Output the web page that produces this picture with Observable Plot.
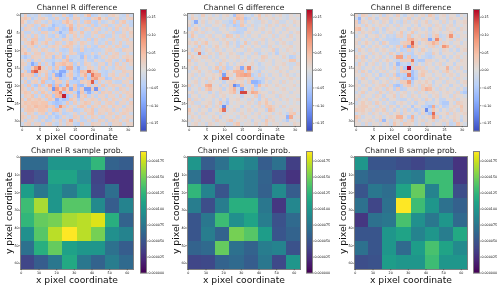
<!DOCTYPE html>
<html><head><meta charset="utf-8">
<script src="https://cdn.jsdelivr.net/npm/d3@7"></script>
<script src="https://cdn.jsdelivr.net/npm/@observablehq/plot@0.6"></script>
<style>html,body{margin:0;padding:0;background:#fff;width:504px;height:288px;overflow:hidden}
svg{filter:blur(0.35px)}</style>
</head><body>
<script>
// difference values, in hundredths
const diffR = [
[-2,3,-3,-2,-3,2,-2,-3,-4,2,-2,-3,3,-3,-5,2,-2,-3,2,5,-4,-3,1,-2,-3,2,3,1,-2,-3,3,-2],
[3,4,2,-4,-2,2,3,1,-3,-3,3,-2,-3,4,-3,3,3,-2,-3,-4,2,3,6,1,3,-3,-2,2,-3,-2,2,3],
[4,1,-3,-2,3,2,-2,-3,2,-4,-3,-4,3,5,2,-3,2,-3,3,4,-3,-4,2,-3,-2,1,3,-3,2,4,-2,-3],
[2,-3,2,3,-3,-2,4,2,-2,-6,-4,-3,-4,2,5,-2,3,2,-2,-3,3,-4,-2,2,3,-3,-2,2,3,-2,2,-3],
[-3,3,2,-2,-3,3,-4,-3,-5,-5,3,-3,-5,-4,6,-3,2,-3,3,2,-3,2,3,-2,-3,2,-3,3,-2,2,3,1],
[2,-3,-3,2,-2,-3,3,3,-2,2,-3,-7,-3,-3,4,2,-2,4,-2,-3,2,3,-3,-2,2,-2,3,-3,-3,2,-2,3],
[3,-2,2,-3,3,-2,-3,2,-3,-4,2,-3,-5,2,-2,3,-2,2,-3,-3,2,-2,2,3,-3,-3,2,-2,2,3,-2,2],
[2,3,-2,4,4,-3,-3,2,3,-2,-3,-2,3,2,-3,2,3,-2,-3,3,-4,3,-2,-3,-2,2,3,-2,-2,2,3,-2],
[-2,2,3,6,3,-2,2,4,-2,-3,3,2,-3,2,4,2,-2,3,2,-2,-3,2,-3,-2,3,-3,2,-2,3,-2,2,2],
[2,-3,2,3,-3,2,-2,-3,2,3,2,-2,3,4,3,-2,-3,2,-3,2,-3,-4,2,3,-2,2,-2,3,2,-3,-3,2],
[3,2,-3,2,2,-2,3,2,-2,-3,2,-3,-4,-3,3,-3,-4,3,-4,-3,-4,-3,-3,-2,2,3,2,-2,-3,3,2,2],
[2,5,2,-2,3,3,-3,2,3,2,-2,3,-3,-2,3,2,-4,-5,-3,-3,2,-3,2,-2,3,-2,2,3,-2,-2,2,-2],
[-3,-5,-3,3,2,2,-2,3,2,-5,3,2,-5,4,-3,-3,-2,-6,3,-4,-2,-5,-3,2,-2,2,3,2,-2,2,3,2],
[2,-2,3,-4,2,-3,2,-3,-3,-4,-2,-3,3,5,-5,-2,-3,-4,2,-3,-4,2,-2,-3,2,3,-2,-3,2,-3,5,3],
[3,2,-3,-9,-5,4,-3,3,-2,-6,3,4,5,3,4,-4,2,-4,3,2,-2,-3,2,2,-4,2,-3,3,-2,2,-2,2],
[2,-3,-4,3,8,13,3,-2,3,-4,4,-3,-5,7,7,-3,-7,-3,-2,3,2,-2,3,-3,2,-2,-3,2,3,2,-2,-2],
[-2,3,-5,10,13,4,2,3,-3,-6,-3,-9,-9,-3,3,-4,-6,5,4,12,5,3,-2,-3,-4,-2,2,-2,-2,3,2,2],
[5,2,3,4,-5,3,-2,4,-4,3,-8,-10,-5,2,4,-3,-5,3,6,-4,11,6,6,-3,-4,2,3,-2,2,2,-3,2],
[2,-3,2,-3,2,-4,3,4,-5,2,4,-5,-4,-3,3,-7,-3,-5,4,-5,6,8,3,3,-5,-4,2,3,2,-2,2,3],
[-2,3,-4,2,3,-2,5,-4,-3,-5,3,3,-3,4,-4,-4,-5,3,2,4,13,-4,3,-2,2,3,-2,-3,-3,2,2,-2],
[3,-3,4,-3,-5,4,-4,2,6,-6,5,-6,-3,8,-3,4,-6,-7,-2,4,-3,3,-3,4,-3,2,3,2,2,-3,2,3],
[3,2,-3,4,-2,3,2,-3,3,-11,8,3,7,3,-8,4,-5,3,-10,-10,3,-11,3,-3,2,-2,2,-3,3,2,-2,2],
[2,4,3,-2,3,-3,4,2,-3,4,5,10,-4,4,3,-3,-8,4,-4,-8,-3,2,-4,3,2,3,-2,2,-2,2,3,2],
[-2,3,2,4,-3,2,-3,4,3,-5,5,6,16,-5,-3,3,-7,2,4,-3,2,-3,2,2,-3,2,2,-2,3,-2,2,3],
[3,-2,4,2,3,4,2,-3,4,2,-8,-4,-6,-5,4,2,-4,3,-2,2,3,2,-3,2,3,-2,3,2,-2,2,3,-2],
[2,4,3,4,4,3,4,4,-3,-5,-6,-5,-3,4,-3,3,-2,2,4,3,-2,2,3,-2,2,3,2,-3,2,2,-2,3],
[3,2,4,3,5,4,4,5,3,4,-5,9,4,-3,2,-2,3,4,2,-3,3,2,-2,3,2,-2,3,2,2,-3,2,2],
[-2,3,4,4,2,4,4,3,-3,4,5,2,-3,2,3,-4,-3,-2,3,2,4,-3,2,2,3,2,-3,2,-2,2,3,2],
[2,-2,3,2,-3,2,3,-4,2,-5,-3,2,-4,-3,-2,2,-3,2,-2,3,4,-2,3,2,-2,3,2,-2,2,3,2,-2],
[3,2,-2,3,2,-3,-3,2,-4,-2,-5,-3,2,-2,-3,3,2,-3,2,-2,3,2,-2,-3,2,2,-2,3,2,-2,2,2],
[2,-3,2,2,-2,-3,2,-4,-3,2,-2,3,-3,2,7,-2,2,-3,-3,2,-3,-2,3,2,-3,2,3,2,-2,2,3,-2],
[-2,2,3,-2,2,2,-3,2,3,-2,-3,2,-2,3,2,-3,-4,3,-2,-2,3,2,2,-2,2,-3,2,2,3,-2,2,2]];
const diffG = [
[-1,2,-1,-2,3,-1,1,-2,1,-2,1,2,-1,-6,4,3,-2,-1,-3,1,4,-1,2,1,-2,1,2,-1,-2,1,-1,1],
[-2,3,1,-2,1,-1,2,1,-1,-2,1,-1,-2,2,5,4,-5,-3,1,-2,3,1,-1,1,2,-1,1,-1,-2,1,1,-1],
[1,-2,-9,-1,2,-2,1,-1,2,1,-2,-2,-4,4,-3,3,-3,1,-1,-2,-2,2,1,-2,1,2,-2,-2,1,-1,2,1],
[2,-3,1,-2,1,-2,-2,1,1,-1,2,-3,-2,-5,-4,4,1,-2,2,-2,-1,1,-2,2,1,-2,1,2,-1,1,-2,1],
[-3,1,3,1,-2,2,1,-2,-2,1,1,-2,1,2,-3,-3,-4,1,1,-2,1,2,-1,1,-2,1,1,-2,2,1,1,-1],
[1,3,-2,1,2,-2,-1,1,-2,-2,1,1,-2,-3,-4,-3,1,2,-1,1,1,-2,1,2,-2,1,-2,1,1,-2,1,2],
[-2,4,1,-2,-2,1,2,-2,1,1,-2,4,3,-1,2,-2,1,-2,1,1,-2,1,1,-1,2,-2,1,1,-2,2,-1,1],
[1,-3,-1,2,1,-2,1,2,-2,1,2,-1,1,2,-2,1,-2,1,-2,-1,1,2,-2,1,-2,1,2,-1,1,1,-2,1],
[2,1,3,-1,2,4,-1,1,1,-2,1,3,-2,1,-3,-1,4,-2,1,2,-2,1,-2,1,1,-2,1,2,-1,-2,1,1],
[-1,1,-2,4,-2,1,-2,1,3,-1,1,2,-1,1,-3,3,-1,1,-2,1,1,-2,-2,2,-1,1,-1,1,1,2,-1,1],
[1,-3,3,2,-2,2,1,-2,2,1,-2,1,1,-2,1,1,-2,2,1,-2,-2,1,-1,1,3,-3,1,-1,2,1,-1,1],
[3,1,-2,11,-3,-1,2,1,-2,3,1,-1,2,1,-2,-3,1,1,-2,2,-3,-1,1,-2,1,-4,1,1,-1,1,2,-1],
[-1,3,1,-1,2,2,-2,1,-2,1,1,-2,1,1,2,-1,1,-2,1,1,-1,3,2,-1,1,1,-1,2,-1,-4,-3,1],
[4,-2,2,1,-1,1,1,-2,1,-2,2,1,-1,1,-2,1,2,-1,1,-2,1,2,-1,1,-2,1,1,-1,1,4,4,-1],
[2,1,-2,1,1,-2,1,1,-2,3,1,-3,1,-2,1,2,-1,1,2,-1,-3,-1,1,1,-2,1,1,2,-1,-2,-2,2],
[1,-2,3,-1,1,1,-2,1,4,-2,3,-4,-3,1,3,-9,3,10,-2,1,-2,-2,1,-1,1,2,-1,1,1,-2,1,1],
[-2,1,1,3,-1,1,2,-2,-3,5,-3,3,1,5,6,6,-3,5,1,-2,-4,1,-1,1,1,-1,2,1,-2,1,1,-1],
[1,2,-2,1,-2,1,1,2,1,3,-10,3,2,-1,6,7,8,7,-4,-2,3,-2,1,-2,1,1,-2,1,2,-1,-2,1],
[1,-2,1,-2,1,2,-1,3,1,-5,12,12,-2,1,3,3,1,3,3,-3,-2,-3,2,1,-2,1,1,-1,1,2,1,-1],
[-1,1,2,-2,1,-2,2,1,-1,1,-3,1,2,3,1,2,-2,3,-8,-8,-6,-3,1,-2,1,1,-2,2,-1,1,-1,1],
[3,-2,1,-2,1,6,7,-1,1,-3,1,-2,3,-12,-8,4,-2,-2,2,-6,5,1,3,1,-1,2,1,-1,1,1,2,-1],
[-3,1,-1,2,-2,3,5,1,1,2,-3,1,3,6,-2,-9,1,-2,4,-3,1,-2,-1,1,1,-1,1,2,-1,1,-1,1],
[1,2,-2,1,1,1,-3,1,-2,2,1,1,3,5,-2,14,14,2,7,6,2,1,1,-2,2,1,-1,1,1,-2,1,1],
[-3,1,1,-2,1,-1,1,2,-2,1,2,-1,1,-1,1,-3,1,1,-1,3,-4,2,-1,1,1,-2,2,1,-1,1,1,-1],
[3,-2,2,1,-2,1,1,-2,1,-3,1,-4,1,1,2,-1,1,-2,2,-1,-4,1,3,-2,1,1,-2,1,2,-1,1,2],
[1,2,-2,-2,1,1,2,-2,1,4,-2,-5,1,-1,1,1,-1,2,1,-2,3,1,4,1,-2,1,1,-1,1,-1,1,-1],
[-2,1,1,2,-2,3,1,-2,2,-2,-12,2,-1,1,1,-3,1,1,-2,1,2,-2,3,4,2,1,-2,2,-1,1,1,1],
[4,-1,1,-2,1,1,-3,1,1,4,12,-2,1,2,-2,1,-1,2,1,-2,1,1,-3,5,3,-1,1,-1,1,2,-1,1],
[2,1,-2,1,2,-2,1,1,-2,1,-2,1,1,-1,1,2,-1,1,-2,1,2,-1,1,1,-2,1,2,-1,-3,3,4,-1],
[-1,2,1,-2,1,1,-1,2,1,-3,1,1,-1,1,-2,1,2,-1,1,1,-2,1,-2,2,1,-1,1,1,-8,7,-1,1],
[1,-2,1,2,-1,1,1,-2,3,1,-1,2,4,-2,1,1,-1,1,-3,1,1,-2,4,1,2,-1,1,-2,-5,1,1,-1],
[-1,1,2,-1,1,-2,2,1,-1,1,1,-2,-2,2,4,-1,1,1,-1,2,-1,1,3,-1,1,1,-1,1,1,-1,2,1]];
const diffB = [
[2,-3,3,2,-2,1,-1,2,-3,2,1,-2,3,-1,-3,1,2,-2,1,2,-2,4,2,-2,1,2,-2,1,1,-3,1,-1],
[-2,-8,1,-2,3,1,-3,1,2,2,-2,1,1,-2,1,3,-2,1,2,-2,1,1,2,-3,1,1,-2,2,1,1,-2,1],
[3,-5,2,1,-2,2,1,-2,2,1,-3,1,-2,-3,2,-2,1,2,-2,1,3,-2,1,1,-2,2,-2,1,-3,1,1,2],
[2,1,-2,3,1,-2,1,2,1,-2,1,-2,2,-2,1,1,-2,1,-3,1,1,2,-2,2,1,-2,1,2,-2,1,-1,1],
[4,5,1,-2,1,3,-2,1,-3,2,1,1,-2,1,1,-3,1,2,1,-2,1,-3,1,1,2,-2,2,1,1,-2,2,1],
[1,-2,2,1,2,-2,-3,1,-2,1,2,-2,1,4,-2,1,4,-2,1,1,2,-2,2,1,-2,1,1,3,-2,1,1,-1],
[-2,1,1,-3,1,1,2,-2,1,-3,-2,-3,2,3,-2,4,-2,1,2,-2,2,-3,2,4,-3,-2,2,9,1,-2,1,1],
[1,2,-2,1,-2,2,-3,1,-2,-3,-3,-4,-3,-2,-2,5,6,2,1,3,3,-9,-2,10,2,-2,1,2,-2,2,1,-1],
[2,-2,1,3,1,-2,1,-3,3,1,-3,-3,-3,2,3,4,13,2,-3,1,2,3,6,4,-2,2,1,-2,1,1,-2,1],
[1,1,-3,1,-2,1,2,1,-2,-3,1,-2,3,-3,5,-8,9,3,1,1,-2,2,3,-2,1,9,6,1,-2,2,1,1],
[-2,3,1,-2,2,1,-2,1,2,1,-2,-3,1,-4,-3,3,-3,1,-2,3,1,-2,1,1,-2,2,1,-2,1,-3,1,2],
[1,-2,1,1,-2,2,1,-2,1,-2,3,1,-3,3,-2,-3,-4,1,2,1,-3,-3,3,1,-3,1,1,1,-2,1,1,-1],
[3,1,3,-3,1,-2,1,2,-2,1,-2,2,8,8,-3,4,-4,-3,1,-2,-3,-4,-2,1,1,-3,1,-2,1,2,-1,1],
[1,-2,2,1,-2,1,2,-2,1,3,1,-2,-3,3,3,3,11,-3,-5,-5,2,2,1,-2,1,1,-3,1,1,-2,2,1],
[-2,3,1,-3,1,2,-2,1,-2,1,-3,1,-7,-3,-2,-4,3,-3,1,-2,2,1,-2,1,2,-2,1,1,-3,1,1,1],
[1,2,-2,1,1,-2,1,2,-2,1,-2,3,-3,3,-5,17,-3,3,3,2,-2,1,1,-2,1,1,6,-2,1,2,-2,1],
[2,-2,3,1,-3,1,-2,1,2,-2,1,1,-3,3,4,3,-6,-3,1,3,2,-2,2,1,-2,2,4,1,-2,1,1,-2],
[1,1,-2,2,1,-2,1,-4,-2,2,-2,3,-5,-3,-4,11,-6,-3,2,4,1,1,-2,1,1,-2,1,2,1,-2,1,1],
[-2,1,3,-2,1,1,-3,1,1,-2,2,1,3,-3,-5,-3,-7,-4,1,-2,1,2,1,-2,2,1,-2,1,-2,2,1,-1],
[1,-3,1,1,-2,2,1,-2,1,2,-2,1,-2,3,3,8,-4,1,2,1,3,1,-3,1,1,-2,2,1,1,-2,1,2],
[2,1,-2,2,1,-2,1,2,3,-2,2,-5,-6,-4,2,4,-3,1,-2,3,1,3,-2,1,-2,1,1,-3,1,1,-2,1],
[1,-2,1,1,-3,1,2,1,-2,3,1,-4,3,-4,-3,1,1,2,-2,3,6,5,1,-2,2,1,-2,1,1,-2,1,-3],
[-2,1,3,-2,1,1,-2,3,1,-2,2,1,-2,1,2,-2,1,-2,2,1,-2,1,2,1,-2,1,2,1,-2,2,-3,-5],
[1,2,-2,1,1,-2,2,1,-3,1,1,3,-2,2,1,-2,2,1,-2,1,1,-2,1,2,-2,1,1,-2,2,1,1,-1],
[2,-2,1,2,-2,1,1,-2,2,-3,1,1,-2,-3,-3,1,-2,2,1,-2,3,1,-3,1,-3,-3,1,1,2,-2,1,1],
[-2,1,3,1,2,-2,3,1,-2,1,-2,-3,1,2,1,-2,1,-3,1,1,-3,-2,-2,1,-3,-5,-5,1,-2,3,2,1],
[1,2,3,3,1,1,-2,2,1,-2,2,1,-3,1,-2,1,-5,1,1,-3,-4,-6,7,-3,1,-4,-3,1,2,1,4,1],
[3,2,3,1,2,-2,2,1,3,-2,1,-3,1,-2,2,-3,1,-4,-2,1,-12,-3,4,1,-3,1,-2,2,1,-2,3,1],
[-2,1,2,1,-2,2,1,-2,1,2,-2,1,2,-3,2,1,-2,1,-3,2,-3,-6,12,-2,1,1,3,-2,2,1,1,2],
[4,2,-2,1,1,-2,1,2,-2,1,2,1,6,6,1,-4,6,-2,1,-2,1,2,9,3,-3,1,-2,1,2,1,-2,1],
[2,-2,1,1,2,1,-2,3,-7,1,-2,2,1,3,-2,2,4,-2,1,2,-2,1,3,-2,1,2,1,-2,3,1,-3,1],
[1,1,-2,2,-2,1,1,-2,1,2,-2,4,1,-2,3,2,1,-2,1,-2,2,1,-2,1,1,-2,2,-3,-2,4,1,-1]];
// sampling probability, in millionths, block cells 8x8
const probR = [
[65,65,100,100,100,125,60,55],
[35,45,110,110,90,38,25,25],
[105,75,100,80,105,42,68,25],
[130,165,100,140,140,90,55,85],
[125,145,150,165,170,180,120,60],
[95,140,170,190,170,150,95,85],
[70,120,145,108,100,100,70,55],
[40,55,75,115,75,60,80,65]];
const probG = [
[100,55,70,95,85,55,70,35],
[70,35,85,85,75,60,42,28],
[125,85,50,85,75,58,90,55],
[80,45,80,120,120,75,30,88],
[50,75,130,95,110,80,48,65],
[50,80,60,150,140,105,50,60],
[60,65,145,70,60,80,85,48],
[40,42,60,65,55,75,42,100]];
const probB = [
[100,50,50,45,40,48,48,28],
[65,55,55,85,78,130,130,30],
[50,75,68,110,145,85,130,45],
[70,40,70,190,130,100,70,58],
[30,70,75,135,95,75,100,65],
[50,50,100,110,85,100,80,115],
[70,50,100,65,105,135,110,90],
[45,48,105,100,100,130,100,100]];

const titlesTop = ["Channel R difference","Channel G difference","Channel B difference"];
const titlesBottom = ["Channel R sample prob.","Channel G sample prob.","Channel B sample prob."];
const xTicksTop = [0,5,10,15,20,25,30];
const xTicksBottom = [0,10,20,30,40,50,60];
const barTicksTop = [-0.15,-0.10,-0.05,0,0.05,0.10,0.15];
const barTicksBottom = [0,0.000025,0.00005,0.000075,0.0001,0.000125,0.00015,0.000175];
const coolwarm = ["#3b4cc0","#6282ea","#8db0fe","#b8d0f9","#dddddd","#f5c4ad","#f49a7b","#de604d","#b40426"];

const heatLeft = [20,187,354], barLeft = [139.5,306.3,473.3];
const heatSize = 113;
const font = "DejaVu Sans", tickFs = 3.3;
const gray = "#808080";

const topColor = {type:"linear",domain:[-0.172,0.172],interpolate:d3.piecewise(d3.interpolateRgb,coolwarm),clamp:true};
const botColor = {type:"linear",scheme:"viridis",domain:[0,0.00019],clamp:true};

function heat({grid,unit,block,ticks,color,title,left,top}) {
  const n = grid.length, ext = n*block-0.5;
  const cells = grid.flatMap((row,r)=>row.map((v,c)=>({r,c,v:v*unit})));
  const p = Plot.plot({
    width:left.w, height:heatSize+34,
    marginLeft:20, marginTop:13, marginRight:left.w-20-heatSize, marginBottom:21,
    style:{position:"absolute",left:(left.x-20)+"px",top:(top-13)+"px",background:"transparent",fontFamily:font,overflow:"visible"},
    x:{domain:[-0.5,ext],label:null},
    y:{domain:[ext,-0.5],label:null},
    color,
    marks:[
      Plot.rect(cells,{x1:d=>d.c*block-0.5,x2:d=>(d.c+1)*block-0.5,y1:d=>d.r*block-0.5,y2:d=>(d.r+1)*block-0.5,fill:"v",shapeRendering:"crispEdges"}),
      Plot.frame({stroke:gray,strokeWidth:1}),
      Plot.axisX({ticks,tickSize:1.3,tickPadding:0.6,fontSize:tickFs,label:null,stroke:"#333",strokeWidth:0.5}),
      Plot.axisY({ticks,tickSize:1.3,tickPadding:0.6,fontSize:tickFs,label:null,stroke:"#333",strokeWidth:0.5}),
      Plot.text([title],{frameAnchor:"top",lineAnchor:"middle",dy:-6,fontSize:7.7,fill:"#222"}),
      Plot.text(["x pixel coordinate"],{frameAnchor:"bottom",lineAnchor:"middle",dy:11,fontSize:9.2,fill:"#111"}),
      Plot.text(["y pixel coordinate"],{frameAnchor:"left",dx:-11.5,rotate:-90,textAnchor:"middle",fontSize:9.2,fill:"#111"})
    ]
  });
  document.body.append(p);
}
function bar({color,domain,ticks,fmt,x,y,h}) {
  const p = Plot.plot({
    width:36,height:h+2,marginLeft:1,marginRight:29,marginTop:1,marginBottom:1,
    style:{position:"absolute",left:(x-1)+"px",top:(y-1)+"px",background:"transparent",fontFamily:font,overflow:"visible"},
    x:{domain:[0,1],axis:null},
    y:{domain,label:null},
    color,
    marks:[
      Plot.raster({x1:0,x2:1,y1:domain[0],y2:domain[1],width:1,height:240,fill:(a,b)=>b}),
      Plot.frame({stroke:gray,strokeWidth:1}),
      Plot.axisY({anchor:"right",ticks,tickFormat:fmt,tickSize:1.3,tickPadding:0.6,fontSize:tickFs,label:null,stroke:"#333",strokeWidth:0.5})
    ]
  });
  document.body.append(p);
}
[diffR,diffG,diffB].forEach((grid,i)=>{
  heat({grid,unit:0.01,block:1,ticks:xTicksTop,color:topColor,title:titlesTop[i],left:{x:heatLeft[i],w:135},top:13});
  bar({color:topColor,domain:[-0.172,0.172],ticks:barTicksTop,fmt:d3.format(".2f"),x:barLeft[i],y:9,h:121.6});
});
[probR,probG,probB].forEach((grid,i)=>{
  heat({grid,unit:1e-6,block:8,ticks:xTicksBottom,color:botColor,title:titlesBottom[i],left:{x:heatLeft[i],w:135},top:156});
  bar({color:botColor,domain:[0,0.00019],ticks:barTicksBottom,fmt:d3.format(".6f"),x:barLeft[i],y:151,h:121.6});
});
</script>
</body></html>
